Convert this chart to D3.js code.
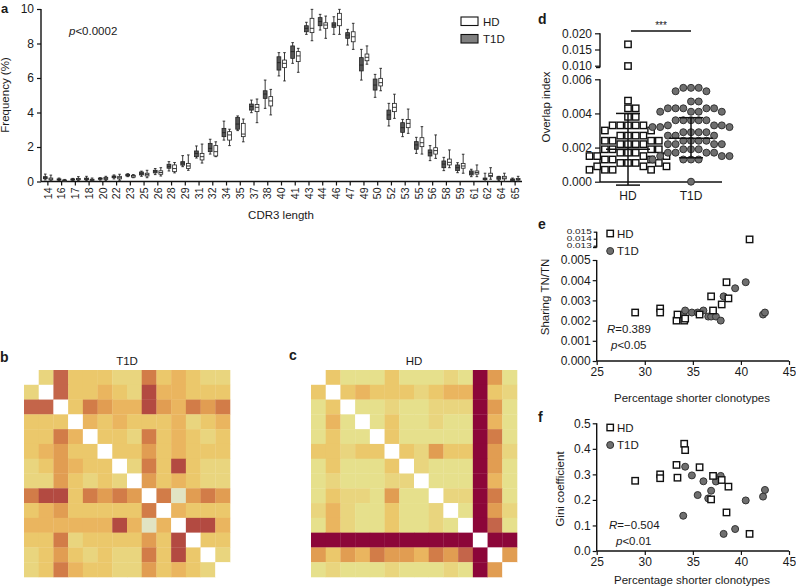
<!DOCTYPE html>
<html><head><meta charset="utf-8">
<script src="https://cdn.jsdelivr.net/npm/d3@7"></script>
<style>
body{margin:0;background:#fff}
svg{display:block}
text{font-family:"Liberation Sans",Arial,Helvetica,sans-serif;fill:#1a1a1a}
</style></head><body>
<svg id="chart" width="796" height="587"></svg>
<script>
// ---------- Panel a data ----------
const cdr3Lengths = [14,16,17,18,20,22,23,25,26,28,29,31,32,34,35,37,38,40,41,43,44,46,47,49,50,52,53,55,56,58,59,61,62,64,65];
const t1dMin = [0.09,0.05,0.05,0.05,0.08,0.15,0.28,0.30,0.40,0.61,0.86,1.36,1.59,2.40,2.95,3.99,4.24,6.12,6.85,8.53,8.78,8.53,7.91,5.88,4.88,3.22,2.60,1.63,1.21,0.63,0.51,0.28,0.00,0.05,0.00];
const t1dQ1  = [0.16,0.08,0.08,0.10,0.13,0.22,0.32,0.38,0.50,0.77,0.95,1.44,1.73,2.60,3.03,4.14,4.82,6.46,7.14,8.68,9.03,8.94,8.30,6.41,5.30,3.60,2.85,1.87,1.48,0.80,0.63,0.38,0.10,0.13,0.05];
const t1dMed = [0.22,0.12,0.12,0.15,0.17,0.28,0.37,0.45,0.60,0.88,1.07,1.63,1.92,2.83,3.33,4.34,5.07,6.89,7.53,8.88,9.27,9.07,8.49,6.75,5.59,3.86,3.12,2.12,1.67,1.01,0.80,0.49,0.15,0.20,0.10];
const t1dQ3  = [0.28,0.15,0.15,0.20,0.20,0.32,0.42,0.55,0.65,1.00,1.15,1.77,2.21,3.08,3.72,4.49,5.26,7.23,7.86,9.03,9.50,9.20,8.63,7.18,5.94,4.14,3.41,2.31,1.83,1.19,0.96,0.61,0.20,0.28,0.15];
const t1dMax = [0.43,0.20,0.18,0.30,0.22,0.38,0.45,0.60,0.75,1.15,1.50,2.06,2.45,3.50,3.80,4.72,5.88,7.47,8.05,9.23,9.69,9.55,8.82,7.66,6.21,4.53,3.60,2.56,2.08,1.40,1.09,0.71,0.48,0.30,0.20];
const hdMin  = [0.03,0.00,0.05,0.03,0.05,0.07,0.22,0.22,0.32,0.50,0.65,1.07,1.44,2.08,2.30,3.41,3.86,5.83,6.33,8.16,8.30,8.53,7.66,6.80,5.26,3.66,2.79,1.59,1.34,0.80,0.48,0.28,0.13,0.00,0.00];
const hdQ1   = [0.09,0.03,0.10,0.07,0.12,0.15,0.25,0.32,0.42,0.57,0.75,1.25,1.48,2.40,2.60,4.05,4.38,6.60,6.95,8.63,8.88,9.03,8.10,7.00,5.54,4.05,3.12,2.02,1.59,0.96,0.77,0.43,0.28,0.15,0.08];
const hdMed  = [0.14,0.06,0.14,0.10,0.18,0.22,0.32,0.40,0.52,0.75,0.90,1.44,1.73,2.70,2.75,4.30,4.67,6.85,7.28,8.88,9.07,9.40,8.39,7.20,5.73,4.30,3.37,2.25,1.79,1.11,0.90,0.52,0.35,0.20,0.12];
const hdQ3   = [0.20,0.09,0.18,0.13,0.24,0.30,0.36,0.48,0.62,0.96,1.05,1.63,2.08,2.89,3.37,4.47,4.92,7.04,7.53,9.46,9.20,9.75,8.68,7.39,5.98,4.53,3.60,2.54,1.96,1.30,1.05,0.61,0.48,0.30,0.18];
const hdMax  = [0.37,0.12,0.28,0.20,0.30,0.42,0.40,0.65,0.80,1.10,1.54,2.17,2.30,3.03,3.62,4.78,5.34,7.47,7.72,9.98,9.59,9.98,9.17,7.86,6.56,5.06,4.20,3.18,2.70,1.83,1.58,0.96,0.80,0.48,0.30];
const freqTicks = [0,2,4,6,8,10];

// ---------- Panels b, c data (colour level per cell) ----------
const heatLevels = [0,1,2,3,4,5,6,7,8,9,10];
const heatColors = ["#ffffff","#e6e08c","#e9d57e","#ebc86b","#eab55f","#e19d52","#d27c48","#c4654a","#b34a41","#8c0639","#e1e4c3"];
const heatT1D = [
 [0,2,7,3,3,3,2,2,6,3,4,3,2,2],
 [2,0,7,3,3,4,3,2,8,4,4,3,3,3],
 [7,7,0,3,6,5,4,4,8,5,4,6,5,6],
 [3,3,3,0,4,3,4,3,3,3,4,2,3,4],
 [3,3,6,4,0,3,3,2,6,3,4,3,2,3],
 [3,4,5,3,3,0,3,3,5,3,4,3,3,3],
 [2,3,5,4,3,3,0,2,6,3,8,3,2,2],
 [2,2,5,3,2,3,2,0,5,3,4,3,2,2],
 [6,8,8,3,6,5,6,5,0,6,10,5,6,5],
 [3,4,5,3,3,3,3,3,6,0,4,3,3,3],
 [4,4,4,4,4,4,8,4,10,4,0,8,8,4],
 [3,3,6,2,3,3,3,3,5,3,8,0,3,3],
 [2,3,5,3,2,3,2,2,6,3,8,3,0,2],
 [2,3,6,4,3,3,2,2,5,3,4,3,2,0]];
const heatHD = [
 [0,3,1,1,1,3,1,1,1,2,1,9,5,1],
 [3,0,3,4,3,3,3,2,3,4,4,9,3,2],
 [1,3,0,1,1,2,1,1,2,2,2,9,5,1],
 [1,4,1,0,1,3,1,1,2,1,1,9,4,1],
 [1,3,1,1,0,3,1,1,1,1,1,9,6,1],
 [3,3,2,3,3,0,3,2,5,3,3,9,5,2],
 [1,3,1,1,1,3,0,2,1,1,1,9,5,1],
 [1,2,1,1,1,2,2,0,1,1,1,9,4,1],
 [1,3,2,2,1,5,1,1,0,2,2,9,6,1],
 [2,4,2,1,1,3,1,1,2,0,1,9,5,2],
 [1,4,2,1,1,3,1,1,2,1,0,9,7,1],
 [9,9,9,9,9,9,9,9,9,9,9,0,9,9],
 [5,3,5,4,6,5,5,4,6,5,7,9,0,5],
 [1,2,1,1,1,2,1,1,1,2,1,9,5,0]];

// ---------- Panel d data ----------
const overlapGroups = ["HD","T1D"];
const overlapHD = [0.0166,0.0099,0.00475,0.0043,0.0043,0.0038,0.0038,0.0033,0.0033,0.0033,0.0033,0.0033,0.0030,0.0030,
  0.0027,0.0027,0.0027,0.0027,0.0024,0.0024,0.0024,0.0024,0.0022,0.0022,0.0022,0.0022,0.0019,0.0019,0.0019,0.0019,
  0.0017,0.0017,0.0017,0.0015,0.0015,0.0015,0.0015,0.0013,0.0013,0.0013,0.0011,0.0011,0.0011,0.0011,0.0009,0.0009,0.0009,
  0.0007,0.0007,0.0007,0.0007];
const overlapT1D = [0.0055,0.0055,0.0055,0.0053,0.0053,0.0047,0.0047,0.0043,0.0043,0.0043,0.0043,0.0043,0.0041,0.0041,0.0041,0.0041,
  0.0036,0.0036,0.0036,0.0036,0.0036,0.0033,0.0033,0.0033,0.0032,0.0032,0.0032,0.0029,0.0029,0.0029,0.0029,0.0027,0.0027,0.0027,
  0.0024,0.0024,0.0024,0.0024,0.0022,0.0022,0.0022,0.0022,0.0019,0.0019,0.0019,0.0017,0.0017,0.0017,0.0017,0.0015,0.0015,0.0015,
  0.0013,0.0013,0.0013,0.0013,0.0000];
const overlapMean = [0.0019,0.00255];
const overlapSDLow = [-0.0002,0.0014];
const overlapSDHigh = [0.0040,0.00375];
const overlapLowTicks = [0,0.002,0.004,0.006];
const overlapHighTicks = [0.010,0.015,0.020];

// ---------- Panels e, f data ----------
const shorterHD  = [29.0,31.6,31.6,33.3,33.4,34.1,34.2,35.7,36.9,37.1,38.0,38.5,38.7,40.9];
const shorterT1D = [34.0,34.2,34.9,35.5,36.1,36.6,36.9,37.4,37.9,38.2,39.4,40.5,42.3,42.5];
const sharingHD  = [0.0024,0.0026,0.0024,0.0020,0.0023,0.0020,0.0021,0.0023,0.0032,0.0025,0.0028,0.0039,0.0031,0.0139];
const sharingT1D = [0.0023,0.0025,0.0024,0.0024,0.0025,0.0022,0.0022,0.0022,0.0020,0.0032,0.0036,0.0039,0.0023,0.0024];
const giniHD  = [0.275,0.300,0.285,0.337,0.287,0.420,0.395,0.328,0.202,0.294,0.278,0.151,0.252,0.067];
const giniT1D = [0.138,0.330,0.296,0.219,0.273,0.206,0.236,0.272,0.294,0.067,0.086,0.198,0.213,0.239];
const shorterTicks = [25,30,35,40,45];
const sharingLowTicks = [0,0.001,0.002,0.003,0.004,0.005];
const sharingHighTicks = [0.013,0.014,0.015];
const giniTicks = [0,0.1,0.2,0.3,0.4,0.5];

// =============================================================
const svg = d3.select("#chart");
const FS = 11.5;
const TFS = 12;
function styleAxis(g,fs){
  g.selectAll("path.domain").remove();
  g.selectAll(".tick line").attr("stroke","#111").attr("stroke-width",1.2);
  g.selectAll(".tick text").attr("fill","#1a1a1a").style("font-size",(fs||TFS)+"px")
   .style("font-family",'"Liberation Sans",Arial,sans-serif');
}
function vline(x,y1,y2){svg.append("line").attr("x1",x).attr("x2",x).attr("y1",y1).attr("y2",y2).attr("stroke","#111").attr("stroke-width",1.4);}
function hline(y,x1,x2){svg.append("line").attr("x1",x1).attr("x2",x2).attr("y1",y).attr("y2",y).attr("stroke","#111").attr("stroke-width",1.4);}
function label(t,x,y){svg.append("text").attr("x",x).attr("y",y).style("font-size","14px").style("font-weight","bold").text(t);}
function ylabel(t,x,y){svg.append("text").attr("transform",`translate(${x},${y}) rotate(-90)`).attr("text-anchor","middle").style("font-size",FS+"px").text(t);}

// ---------- Panel a ----------
{
  const x = d3.scaleBand().domain(cdr3Lengths).range([41,522]);
  const y = d3.scaleLinear().domain([0,10]).range([181.5,9]);
  const gy = svg.append("g").attr("transform","translate(41,0)")
    .call(d3.axisLeft(y).tickValues(freqTicks).tickSize(4).tickPadding(3).tickFormat(d3.format("d")));
  styleAxis(gy);
  const gx = svg.append("g").attr("transform","translate(0,181.5)")
    .call(d3.axisBottom(x).tickSize(4).tickSizeOuter(0));
  styleAxis(gx,10.5);
  gx.selectAll(".tick text").attr("text-anchor","end")
    .attr("transform","rotate(-90)").attr("x",-6).attr("y",0).attr("dy","0.35em");
  vline(41,9,181.5); hline(181.5,41,522);
  const series = [
    {off:-2.6, fill:"#555555", mn:t1dMin,q1:t1dQ1,md:t1dMed,q3:t1dQ3,mx:t1dMax},
    {off: 3.0, fill:"#ffffff", mn:hdMin,q1:hdQ1,md:hdMed,q3:hdQ3,mx:hdMax}];
  const bw = 3.8;
  series.forEach(s=>{
    const g = svg.append("g");
    cdr3Lengths.forEach((c,i)=>{
      const cx = x(c)+x.bandwidth()/2+s.off;
      g.append("line").attr("x1",cx).attr("x2",cx).attr("y1",y(s.mx[i])).attr("y2",y(s.mn[i])).attr("stroke","#222").attr("stroke-width",0.9);
      [s.mx[i],s.mn[i]].forEach(v=>g.append("line").attr("x1",cx-1.3).attr("x2",cx+1.3).attr("y1",y(v)).attr("y2",y(v)).attr("stroke","#222").attr("stroke-width",0.9));
      g.append("rect").attr("x",cx-bw/2).attr("width",bw).attr("y",y(s.q3[i])).attr("height",Math.max(1.2,y(s.q1[i])-y(s.q3[i])))
        .attr("fill",s.fill).attr("stroke","#222").attr("stroke-width",0.8);
      g.append("line").attr("x1",cx-bw/2).attr("x2",cx+bw/2).attr("y1",y(s.md[i])).attr("y2",y(s.md[i])).attr("stroke","#222").attr("stroke-width",0.9);
    });
  });
  ylabel("Frequency (%)",9,95);
  svg.append("text").attr("x",281).attr("y",219).attr("text-anchor","middle").style("font-size",FS+"px").text("CDR3 length");
  const pt = svg.append("text").attr("x",69).attr("y",35).style("font-size",FS+"px");
  pt.append("tspan").style("font-style","italic").text("p");
  pt.append("tspan").text("<0.0002");
  svg.append("rect").attr("x",461).attr("y",17).attr("width",17).attr("height",8.5).attr("fill","#fff").attr("stroke","#111").attr("stroke-width",1.1);
  svg.append("text").attr("x",483).attr("y",25.5).style("font-size",FS+"px").text("HD");
  svg.append("rect").attr("x",461).attr("y",34.5).attr("width",17).attr("height",8.5).attr("fill","#808080").attr("stroke","#111").attr("stroke-width",1.1);
  svg.append("text").attr("x",483).attr("y",43).style("font-size",FS+"px").text("T1D");
  svg.append("text").attr("x",1).attr("y",13).style("font-size","13px").style("font-weight","bold").text("a");
}

// ---------- Panels b, c ----------
const heatColor = d3.scaleOrdinal().domain(heatLevels).range(heatColors);
function heat(mat,x0,title,tx){
  const n = mat.length;
  const xs = d3.scaleBand().domain(d3.range(n)).range([x0,x0+206]);
  const ys = d3.scaleBand().domain(d3.range(n)).range([370,577]);
  const g = svg.append("g");
  mat.forEach((row,r)=>row.forEach((v,c)=>{
    g.append("rect").attr("x",xs(c)).attr("y",ys(r)).attr("width",xs.bandwidth()+0.3).attr("height",ys.bandwidth()+0.3)
      .attr("fill",heatColor(v));
  }));
  svg.append("text").attr("x",tx).attr("y",365).attr("text-anchor","middle").style("font-size",FS+"px").text(title);
}
heat(heatT1D,24,"T1D",127);
heat(heatHD,311,"HD",414);
label("b",0,362);
label("c",289,360);

// ---------- Panel d ----------
{
  const x = d3.scalePoint().domain(overlapGroups).range([628,691]);
  const yLow = d3.scaleLinear().domain([0,0.006]).range([181.7,79.3]);
  const yHigh = d3.scaleLinear().domain([0.010,0.020]).range([65.7,33.3]);
  const yv = v => v>0.006 ? yHigh(v) : yLow(v);
  const fmt = d3.format(".3f");
  const g1 = svg.append("g").attr("transform","translate(600,0)").call(d3.axisLeft(yLow).tickValues(overlapLowTicks).tickSize(5).tickPadding(3).tickFormat(fmt));
  styleAxis(g1);
  const g2 = svg.append("g").attr("transform","translate(600,0)").call(d3.axisLeft(yHigh).tickValues(overlapHighTicks).tickSize(5).tickPadding(3).tickFormat(fmt));
  styleAxis(g2);
  vline(600,79.3,182); vline(600,33.3,67.5); hline(67.5,596,600);
  hline(182,600,722);
  function swarm(vals,cx,size){
    const pts = vals.map(v=>({v,y:yv(v)})).sort((a,b)=>a.y-b.y);
    const placed=[];
    pts.forEach(p=>{
      for(let k=0;k<60;k++){
        const o = k===0?0:(k%2?1:-1)*Math.ceil(k/2)*size*0.55;
        if(!placed.some(q=>Math.abs(q.x-(cx+o))<size*1.02 && Math.abs(q.y-p.y)<size*1.02)){p.x=cx+o;break;}
      }
      placed.push(p);
    });
    return placed;
  }
  const s=6.4;
  swarm(overlapHD,x("HD"),s+0.6).forEach(p=>svg.append("rect").attr("x",p.x-s/2).attr("y",p.y-s/2).attr("width",s).attr("height",s)
     .attr("fill","#fff").attr("stroke","#111").attr("stroke-width",1.4));
  swarm(overlapT1D,x("T1D"),s+0.6).forEach(p=>svg.append("circle").attr("cx",p.x).attr("cy",p.y).attr("r",s/2+0.3)
     .attr("fill","#6f6f6f").attr("stroke","#333").attr("stroke-width",1));
  overlapGroups.forEach((gname,i)=>{
    const cx=x(gname);
    svg.append("line").attr("x1",cx-22).attr("x2",cx+22).attr("y1",yLow(overlapMean[i])).attr("y2",yLow(overlapMean[i])).attr("stroke","#111").attr("stroke-width",1.5);
    svg.append("line").attr("x1",cx).attr("x2",cx).attr("y1",yLow(overlapSDHigh[i])).attr("y2",yLow(overlapSDLow[i])).attr("stroke","#111").attr("stroke-width",1.5);
    [overlapSDHigh[i],overlapSDLow[i]].forEach(v=>svg.append("line").attr("x1",cx-12).attr("x2",cx+12).attr("y1",yLow(v)).attr("y2",yLow(v)).attr("stroke","#111").attr("stroke-width",1.5));
  });
  overlapGroups.forEach(gname=>svg.append("text").attr("x",x(gname)).attr("y",200).attr("text-anchor","middle").style("font-size","12px").text(gname));
  hline(31,631,691);
  svg.append("text").attr("x",661).attr("y",29).attr("text-anchor","middle").style("font-size","10px").text("***");
  ylabel("Overlap index",550,107);
  label("d",538,24);
}

// ---------- scatter helpers for e, f ----------
function scatterPanel(opt){
  const x = d3.scaleLinear().domain([25,45]).range([596.7,789]);
  const gx = svg.append("g").attr("transform",`translate(0,${opt.y0})`).call(d3.axisBottom(x).tickValues(shorterTicks).tickSize(4).tickPadding(2));
  styleAxis(gx);
  hline(opt.y0,596.7,789);
  const yv = opt.yv;
  const s=6.4;
  shorterT1D.forEach((d,i)=>svg.append("circle").attr("cx",x(d)).attr("cy",yv(opt.t1d[i])).attr("r",3.5).attr("fill","#6f6f6f").attr("stroke","#333").attr("stroke-width",1));
  shorterHD.forEach((d,i)=>svg.append("rect").attr("x",x(d)-s/2).attr("y",yv(opt.hd[i])-s/2).attr("width",s).attr("height",s).attr("fill","#fff").attr("stroke","#111").attr("stroke-width",1.4));
  svg.append("rect").attr("x",607).attr("y",opt.legY-3.2).attr("width",s).attr("height",s).attr("fill","#fff").attr("stroke","#111").attr("stroke-width",1.4);
  svg.append("text").attr("x",617).attr("y",opt.legY+4).style("font-size",FS+"px").text("HD");
  svg.append("circle").attr("cx",610.2).attr("cy",opt.legY+17.5).attr("r",3.5).attr("fill","#6f6f6f").attr("stroke","#333");
  svg.append("text").attr("x",617).attr("y",opt.legY+21.5).style("font-size",FS+"px").text("T1D");
  const r = svg.append("text").attr("x",opt.rx).attr("y",opt.ry).style("font-size",FS+"px");
  r.append("tspan").style("font-style","italic").text("R");
  r.append("tspan").text(opt.rText);
  const p = svg.append("text").attr("x",opt.px).attr("y",opt.ry+16).style("font-size",FS+"px");
  p.append("tspan").style("font-style","italic").text("p");
  p.append("tspan").text(opt.pText);
  svg.append("text").attr("x",692).attr("y",opt.xlabY).attr("text-anchor","middle").style("font-size",FS+"px").text("Percentage shorter clonotypes");
}

// ---------- Panel e ----------
{
  const yLow = d3.scaleLinear().domain([0,0.005]).range([361,260]);
  const yHigh = d3.scaleLinear().domain([0.013,0.015]).range([245.7,231.7]);
  const yv = v => v>0.006 ? yHigh(v) : yLow(v);
  const fmt = d3.format(".3f");
  const g1 = svg.append("g").attr("transform","translate(596.7,0)").call(d3.axisLeft(yLow).tickValues(sharingLowTicks).tickSize(4).tickPadding(2).tickFormat(fmt));
  styleAxis(g1);
  const g2 = svg.append("g").attr("transform","translate(596.7,0)").call(d3.axisLeft(yHigh).tickValues(sharingHighTicks).tickSize(3).tickPadding(2).tickFormat(fmt));
  styleAxis(g2,10);
  g2.selectAll(".tick text").attr("dy","0.3em").attr("transform","scale(1,0.66)");
  vline(596.7,260,361); vline(596.7,231.7,247.5); hline(247.5,593,596.7);
  scatterPanel({y0:361,yv,hd:sharingHD,t1d:sharingT1D,legY:233.5,rx:607,ry:333,px:611,rText:"=0.389",pText:"<0.05",xlabY:402});
  ylabel("Sharing TN/TN",549,297);
  label("e",538,229);
}

// ---------- Panel f ----------
{
  const y = d3.scaleLinear().domain([0,0.5]).range([551,423.3]);
  const g1 = svg.append("g").attr("transform","translate(596.7,0)").call(d3.axisLeft(y).tickValues(giniTicks).tickSize(4).tickPadding(2).tickFormat(d3.format(".1f")));
  styleAxis(g1);
  vline(596.7,423.3,551);
  scatterPanel({y0:551,yv:y,hd:giniHD,t1d:giniT1D,legY:427.5,rx:609,ry:529,px:616,rText:"=\u22120.504",pText:"<0.01",xlabY:584});
  ylabel("Gini coefficient",564,489);
  label("f",538,422);
}
</script></body></html>
